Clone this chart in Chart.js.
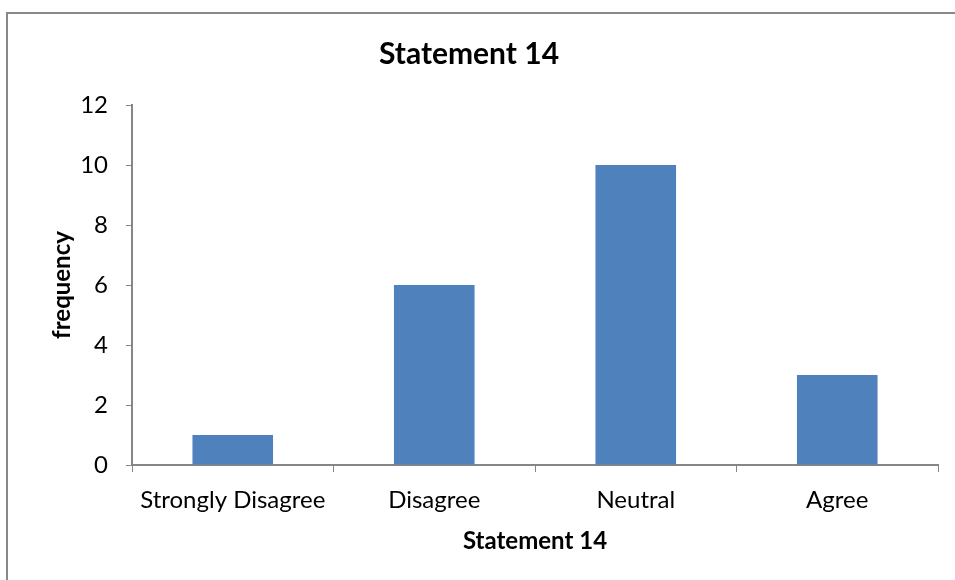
<!DOCTYPE html>
<html>
<head>
<meta charset="utf-8">
<script src="https://cdn.jsdelivr.net/npm/chart.js@4"></script>
<style>
  html, body { margin: 0; padding: 0; background: #fff; overflow: hidden; }
  #wrap { width: 955px; height: 580px; position: relative; }
</style>
</head>
<body>
<div id="wrap"><canvas id="chart" width="955" height="580"></canvas></div>
<script>
const categories = ['Strongly Disagree', 'Disagree', 'Neutral', 'Agree'];
const frequency = [1, 6, 10, 3];
const yTicks = [0, 2, 4, 6, 8, 10, 12];

const fontFamily = 'Lato, "Open Sans", sans-serif';
const axisGray = '#868686';

// frame around the chart: only the top and left edges show in the picture
const framePlugin = {
    id: 'frame',
    beforeDraw(chart) {
        const c = chart.ctx;
        c.save();
        c.fillStyle = '#fff';
        c.fillRect(0, 0, chart.width, chart.height);
        c.strokeStyle = '#888';
        c.lineWidth = 2;
        c.beginPath();
        c.moveTo(7, chart.height);
        c.lineTo(7, 13);
        c.lineTo(chart.width, 13);
        c.stroke();
        c.restore();
    }
};

const ctx = document.getElementById('chart').getContext('2d');
new Chart(ctx, {
    type: 'bar',
    data: {
        labels: categories,
        datasets: [{
            label: 'frequency',
            data: frequency,
            backgroundColor: '#4F81BD',
            borderWidth: 0,
            categoryPercentage: 1,
            barPercentage: 0.4
        }]
    },
    options: {
        responsive: false,
        animation: false,
        layout: { padding: { left: 0, right: 17, top: 0, bottom: 0 } },
        scales: {
            x: {
                offset: true,
                grid: {
                    offset: true,
                    drawOnChartArea: false,
                    drawTicks: true,
                    tickLength: 7,
                    color: axisGray
                },
                border: { color: axisGray, width: 2 },
                ticks: {
                    color: '#000',
                    padding: 14,
                    font: { family: fontFamily, size: 24 }
                },
                title: {
                    display: true,
                    text: 'Statement 14',
                    color: '#000',
                    font: { family: fontFamily, size: 24, weight: 'bold' },
                    padding: { top: 0, bottom: 24 }
                },
                afterFit(scale) { scale.height = 115; }
            },
            y: {
                min: 0,
                max: 12,
                afterBuildTicks(scale) {
                    scale.ticks = yTicks.map(v => ({ value: v }));
                },
                grid: {
                    drawOnChartArea: false,
                    drawTicks: true,
                    tickLength: 6,
                    color: axisGray
                },
                border: { color: axisGray, width: 2 },
                ticks: {
                    color: '#000',
                    padding: 18,
                    font: { family: fontFamily, size: 24 }
                },
                title: {
                    display: true,
                    text: 'frequency',
                    color: '#000',
                    font: { family: fontFamily, size: 24, weight: 'bold' },
                    padding: { top: 48, bottom: 0 }
                },
                afterFit(scale) { scale.width = 132; }
            }
        },
        plugins: {
            legend: { display: false },
            tooltip: { enabled: false },
            title: {
                display: true,
                text: 'Statement 14',
                color: '#000',
                font: { family: fontFamily, size: 30, weight: 'bold' },
                padding: { top: 36, bottom: 33 }
            }
        }
    },
    plugins: [framePlugin]
});
</script>
</body>
</html>
